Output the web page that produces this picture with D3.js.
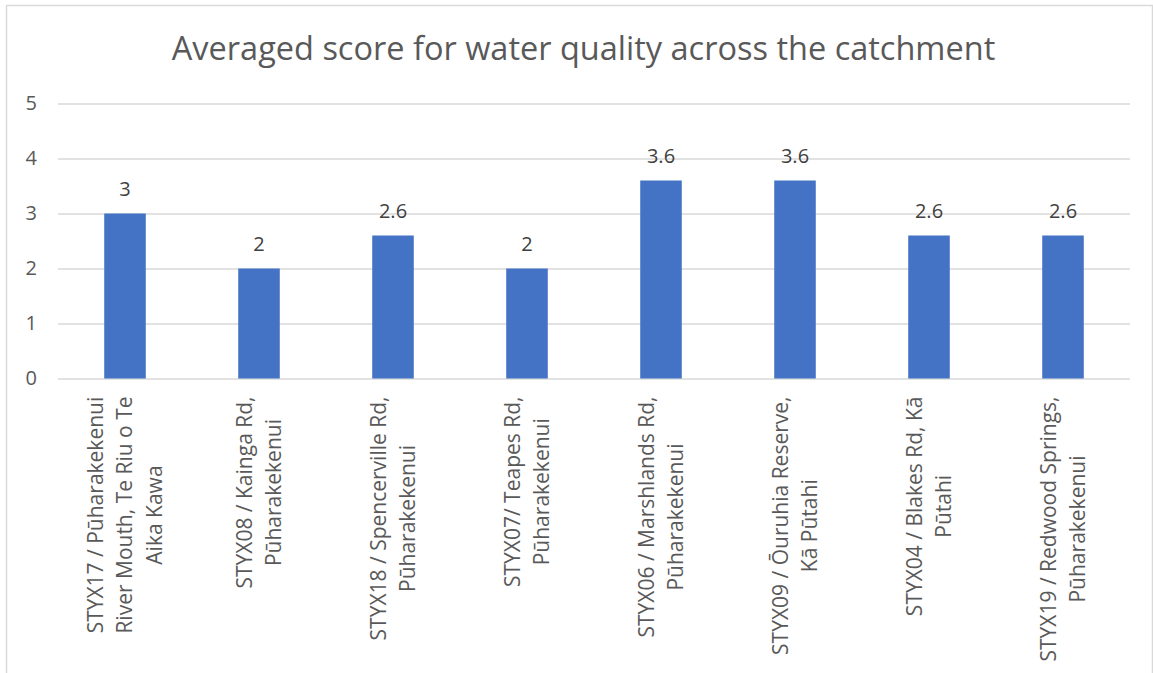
<!DOCTYPE html>
<html>
<head>
<meta charset="utf-8">
<script src="https://cdn.jsdelivr.net/npm/d3@7"></script>
<style>
  body { margin: 0; background: #fff; }
  text { font-family: "Open Sans", sans-serif; }
</style>
</head>
<body>
<div id="chart"></div>
<script>
// Chart data
var sites = [
  "STYX17 / Pūharakekenui\nRiver Mouth, Te Riu o Te\nAika Kawa",
  "STYX08 / Kainga Rd,\nPūharakekenui",
  "STYX18 / Spencerville Rd,\nPūharakekenui",
  "STYX07/ Teapes Rd,\nPūharakekenui",
  "STYX06 / Marshlands Rd,\nPūharakekenui",
  "STYX09 / Ōuruhia Reserve,\nKā Pūtahi",
  "STYX04 / Blakes Rd, Kā\nPūtahi",
  "STYX19 / Redwood Springs,\nPūharakekenui"
];
var scores = [3, 2, 2.6, 2, 3.6, 3.6, 2.6, 2.6];
var yTicks = [0, 1, 2, 3, 4, 5];
var title = "Averaged score for water quality across the catchment";

var w = 1153;
var h = 673;
var plotLeft = 58, plotRight = 1130, plotTop = 103.5, plotBottom = 378.5;

var svg = d3.select('#chart').append('svg')
  .attr('width', w)
  .attr('height', h);

// chart frame
svg.append('rect')
  .attr('x', 6.5).attr('y', 5.5)
  .attr('width', 1146).attr('height', 700)
  .attr('fill', 'none')
  .attr('stroke', '#d9d9d9')
  .attr('stroke-width', 1.5);

svg.append('text')
  .attr('x', 583.5).attr('y', 60)
  .attr('text-anchor', 'middle')
  .attr('fill', '#595959')
  .style('font-size', '32.5px')
  .text(title);

var x = d3.scaleBand()
  .domain(d3.range(sites.length))
  .range([plotLeft, plotRight])
  .paddingInner(0.69)
  .paddingOuter(0.345);

var y = d3.scaleLinear()
  .domain([0, 5])
  .range([plotBottom, plotTop]);

// gridlines + y tick labels
var yAxis = d3.axisLeft(y)
  .tickValues(yTicks)
  .tickFormat(d3.format('d'))
  .tickSize(-(plotRight - plotLeft))
  .tickPadding(21);

var gy = svg.append('g')
  .attr('transform', 'translate(' + plotLeft + ',0)')
  .call(yAxis);
gy.select('.domain').remove();
gy.selectAll('.tick line')
  .attr('stroke', '#d9d9d9')
  .attr('stroke-width', 1.5);
gy.selectAll('.tick text')
  .attr('fill', '#595959')
  .style('font-size', '20px')
  .style('font-family', '"Open Sans", sans-serif');

// bars
svg.append('g')
  .selectAll('rect')
  .data(scores)
  .enter().append('rect')
  .attr('x', function(d, i) { return x(i); })
  .attr('y', function(d) { return y(d); })
  .attr('width', x.bandwidth())
  .attr('height', function(d) { return y(0) - y(d); })
  .attr('fill', '#4472c4');

// value labels
svg.append('g')
  .selectAll('text')
  .data(scores)
  .enter().append('text')
  .attr('x', function(d, i) { return x(i) + x.bandwidth() / 2; })
  .attr('y', function(d) { return y(d) - 18; })
  .attr('text-anchor', 'middle')
  .attr('fill', '#404040')
  .style('font-size', '20px')
  .text(function(d) { return d; });

// category labels, rotated, wrapped lines
var lineGap = 29.5;
var labels = svg.append('g')
  .selectAll('g')
  .data(sites)
  .enter().append('g');

labels.each(function(d, i) {
  var g = d3.select(this);
  var lines = d.split('\n');
  var t = g.append('text')
    .attr('text-anchor', 'middle')
    .attr('fill', '#595959')
    .style('font-size', '21px');
  lines.forEach(function(line, k) {
    t.append('tspan')
      .attr('x', 0)
      .attr('y', (k - (lines.length - 1) / 2) * lineGap)
      .attr('dy', '0.35em')
      .text(line);
  });
  var maxLen = 0;
  t.selectAll('tspan').each(function() {
    maxLen = Math.max(maxLen, this.getComputedTextLength());
  });
  var cx = x(i) + x.bandwidth() / 2;
  var cy = plotBottom + 18 + maxLen / 2;
  g.attr('transform', 'translate(' + cx + ',' + cy + ') rotate(-90)');
});
</script>
</body>
</html>
